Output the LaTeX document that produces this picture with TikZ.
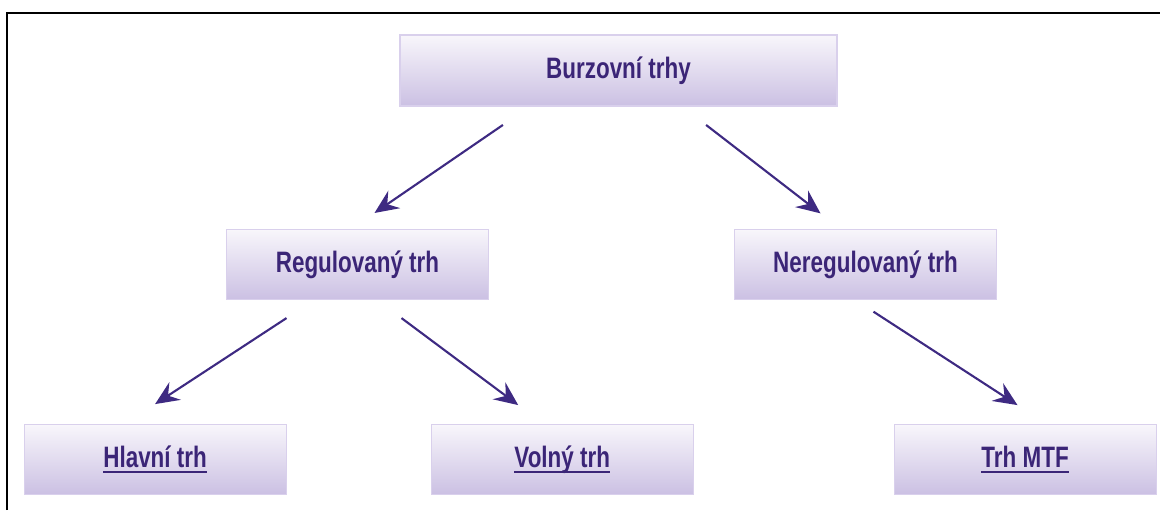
\documentclass[tikz,border=0pt]{standalone}
\usepackage{fontspec}
\setmainfont[FakeStretch=0.76]{Liberation Sans}
\usepackage{tikz}
\usetikzlibrary{positioning, arrows.meta}
\usepackage{xcolor}
\definecolor{texto}{HTML}{3B2577}
\definecolor{seta}{HTML}{3E2A82}
\definecolor{claro}{HTML}{F8F6FB}
\definecolor{lilas}{HTML}{CBC0E3}
\definecolor{borda}{HTML}{D9D0EC}
\newcommand{\sublinha}[1]{\setbox0\hbox{#1}\rlap{\rule[-4pt]{\wd0}{1.4pt}}\box0}

\begin{document}
\begin{tikzpicture}[
    >={Stealth[length=17pt, width=15pt, inset=6pt]},
    font=\fontsize{21}{25}\selectfont\bfseries,
    caixa/.style={draw=borda, line width=0.8pt, top color=claro, bottom color=lilas,
                  text=texto, inner sep=0pt, minimum width=6.55cm, minimum height=1.75cm},
    setinha/.style={->, line width=1.5pt, seta}
  ]

    \useasboundingbox (0,0) rectangle (29,-12.75);

    % --- Moldura ---
    \draw[line width=1.4pt] (0.175,-12.75) |- (29,-0.325);

    % --- Nivel 1 ---
    \node[caixa, minimum width=10.925cm, minimum height=1.775cm] (burza)
      at (15.4625,-1.7625) {Burzovní trhy};

    % --- Nivel 2 ---
    \node[caixa, below=3.06cm of burza, xshift=-6.525cm] (reg) {Regulovaný trh};
    \node[caixa, below=3.06cm of burza, xshift=6.175cm] (nereg) {Neregulovaný trh};

    % --- Nivel 3 ---
    \node[caixa, below=3.1cm of reg, xshift=-5.06cm] (hlavni) {\sublinha{Hlavní trh}};
    \node[caixa, right=3.6cm of hlavni] (volny) {\sublinha{Volný trh}};
    \node[caixa, below=3.1cm of nereg, xshift=3.99cm] (mtf) {\sublinha{Trh MTF}};

    % --- Setas ---
    \draw[setinha] ([xshift=-2.89cm, yshift=-0.46cm]burza.south)
      -- ([xshift=0.425cm, yshift=0.4cm]reg.north);
    \draw[setinha] ([xshift=2.19cm, yshift=-0.46cm]burza.south)
      -- ([xshift=-1.125cm, yshift=0.39cm]nereg.north);
    \draw[setinha] ([xshift=-1.775cm, yshift=-0.45cm]reg.south)
      -- ([xshift=0cm, yshift=0.5cm]hlavni.north);
    \draw[setinha] ([xshift=1.1cm, yshift=-0.45cm]reg.south)
      -- ([xshift=-1.1cm, yshift=0.475cm]volny.north);
    \draw[setinha] ([xshift=0.2cm, yshift=-0.29cm]nereg.south)
      -- ([xshift=-0.19cm, yshift=0.475cm]mtf.north);

  \end{tikzpicture}
\end{document}
